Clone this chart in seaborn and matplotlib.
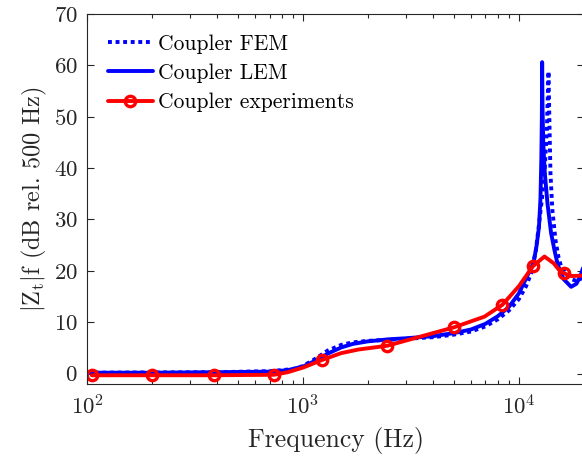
import numpy as np
import pandas as pd
import matplotlib
matplotlib.use("Agg")
import matplotlib.pyplot as plt
import seaborn as sns
from matplotlib.ticker import LogLocator, NullFormatter, FixedLocator

# --- data -------------------------------------------------------------
fem_freq = [100, 400, 700, 900, 1000, 1150, 1300, 1500, 1700, 2000, 2500, 3000,
            4000, 5000, 6000, 7000, 8000, 9000, 10000, 10800, 11400, 12000,
            12400, 12800, 13200, 13500, 13730, 13850, 14020, 14300, 14790,
            15300, 15700, 16500, 17500, 18710, 19400, 20000]
fem_db = [0.2, 0.3, 0.5, 0.9, 1.5, 3.0, 4.5, 5.6, 6.1, 6.4, 6.6, 6.8,
          7.1, 7.6, 8.2, 9.2, 10.6, 12.3, 14.5, 17.0, 19.5, 24.0,
          29.0, 34.0, 40.0, 48.0, 58.8, 50.0, 39.0, 32.0, 26.0,
          22.5, 20.9, 19.4, 18.4, 18.0, 18.5, 19.4]

lem_freq = [100, 200, 400, 700, 850, 1000, 1150, 1300, 1500, 1700, 2000, 2500,
            3000, 4000, 5000, 6000, 7000, 8000, 9000, 10000, 11000, 11700,
            12100, 12400, 12600, 12720, 12790, 12830, 12880, 12980, 13200,
            13590, 14110, 14620, 15150, 16130, 17480, 18500, 19300, 20000]
lem_db = [0.2, 0.2, 0.3, 0.4, 0.7, 1.4, 2.6, 3.9, 5.1, 5.8, 6.3, 6.7,
          6.9, 7.3, 7.9, 8.6, 9.7, 11.2, 13.0, 15.6, 19.2, 21.5,
          25.0, 28.5, 34.0, 42.0, 50.0, 60.6, 52.0, 45.0, 39.0,
          33.0, 27.4, 24.1, 21.2, 18.4, 16.9, 17.5, 19.0, 21.0]

exp_freq = [105, 200, 386, 735, 850, 1000, 1229, 1500, 1800, 2459, 4985,
            6930, 8390, 10000, 11620, 13150, 14500, 15500, 16280, 17500, 20000]
exp_db = [-0.3, -0.3, -0.3, -0.2, 0.3, 1.2, 2.7, 4.0, 4.7, 5.45, 9.0,
          11.1, 13.4, 17.0, 20.9, 22.8, 21.5, 20.0, 19.5, 19.0, 19.1]
exp_measured = [0, 1, 2, 3, 6, 9, 10, 12, 14, 18]

fem = pd.DataFrame({"freq": fem_freq, "db": fem_db})
lem = pd.DataFrame({"freq": lem_freq, "db": lem_db})
exp = pd.DataFrame({"freq": exp_freq, "db": exp_db})

# --- style ------------------------------------------------------------
sns.set_theme(style="ticks")
plt.rcParams["font.family"] = ["cmr10", "DejaVu Serif"]
plt.rcParams["mathtext.fontset"] = "cm"
plt.rcParams["axes.formatter.use_mathtext"] = True
plt.rcParams["axes.unicode_minus"] = False

fig = plt.figure(figsize=(5.82, 4.61), dpi=100)
ax = fig.add_axes([0.150, 0.167, 0.853, 0.803])

lw = 2.8
sns.lineplot(data=fem, x="freq", y="db", ax=ax, color="#0000ff", lw=lw,
             linestyle=(0, (1.0, 0.95)), dash_capstyle="butt",
             estimator=None, sort=False, label="Coupler FEM")
sns.lineplot(data=lem, x="freq", y="db", ax=ax, color="#0000ff", lw=lw,
             estimator=None, sort=False, label="Coupler LEM")
sns.lineplot(data=exp, x="freq", y="db", ax=ax, color="#ff0000", lw=lw,
             marker="o", markersize=7.5, markerfacecolor="none",
             markeredgecolor="#ff0000", markeredgewidth=2.4,
             markevery=exp_measured,
             estimator=None, sort=False, label="Coupler experiments")

ax.set_xscale("log")
ax.set_xlim(100, 20000)
ax.set_ylim(-2, 70)
ax.yaxis.set_major_locator(FixedLocator(np.arange(0, 71, 10)))
ax.xaxis.set_major_locator(LogLocator(base=10, numticks=10))
ax.xaxis.set_minor_locator(LogLocator(base=10, subs=np.arange(2, 10), numticks=20))
ax.xaxis.set_minor_formatter(NullFormatter())

ax.set_xlabel("Frequency (Hz)", fontsize=18.5, labelpad=6)
ax.set_ylabel(r"$|\mathrm{Z}_\mathrm{t}|$f (dB rel. 500 Hz)", fontsize=17.5,
              labelpad=3)

for side in ["top", "right", "bottom", "left"]:
    ax.spines[side].set_visible(True)
    ax.spines[side].set_linewidth(0.8)
    ax.spines[side].set_color("#262626")
ax.tick_params(which="both", direction="in", top=True, right=True,
               colors="#262626", labelcolor="#262626", width=0.8)
ax.tick_params(which="major", length=5, labelsize=16.5, pad=7)
ax.tick_params(which="minor", length=3)
ax.grid(False)

leg = ax.legend(loc="upper left", frameon=False, fontsize=15.5,
                handlelength=2.1, handletextpad=0.25, labelspacing=0.45,
                borderaxespad=0.55)
for t in leg.get_texts():
    t.set_color("#000000")

fig.savefig("out.png", dpi=100)
